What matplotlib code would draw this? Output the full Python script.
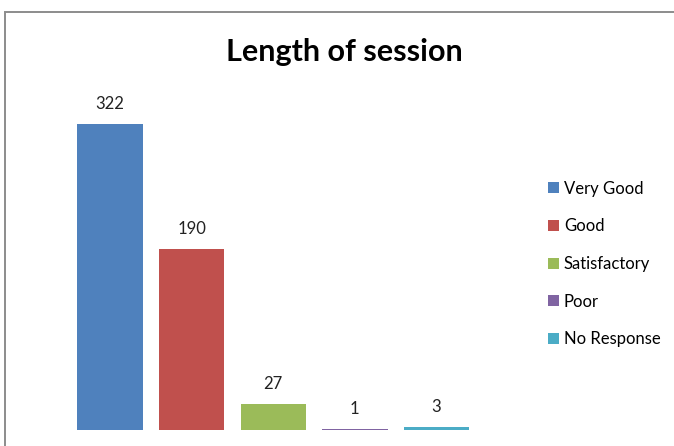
import matplotlib.pyplot as plt
from matplotlib.patches import Rectangle

categories = ["Very Good", "Good", "Satisfactory", "Poor", "No Response"]
values = [322, 190, 27, 1, 3]
colors = ["#4F81BD", "#C0504D", "#9BBB59", "#8064A2", "#4BACC6"]
title = "Length of session"

plt.rcParams['font.family'] = ['Lato', 'DejaVu Sans']

W, H = 674, 446
fig = plt.figure(figsize=(W / 100, H / 100), dpi=100)

# axes placed in pixel terms: bars baseline at y=430, first bar centre x=110
ax = fig.add_axes([61 / W, (H - 430) / H, 424.5 / W, 350 / H])
ax.set_xlim(-0.6, 4.6)
ax.set_ylim(0, 368)
ax.axis('off')

bars = []
for i, (cat, v, c) in enumerate(zip(categories, values, colors)):
    b = ax.bar(i, v, width=0.8, color=c, label=cat)
    bars.append(b)
    ax.annotate(str(v), (i, v), xytext=(0, 14.5), textcoords='offset points',
                ha='center', va='center', fontsize=12, color='#222222')

fig.text(344 / W, 1 - 52 / H, title, ha='center', va='center',
         fontsize=22, fontweight='bold')

fig.legend(handles=bars, labels=categories, loc='center left',
           bbox_to_anchor=(533 / W, 1 - 264 / H), frameon=False,
           fontsize=12, handlelength=0.65, handleheight=0.65,
           handletextpad=0.3, labelspacing=1.3)

# outer chart border (runs off the right and bottom of the image)
fig.patches.append(Rectangle((5 / W, -0.1), 1.2, 1.1 - 12 / H,
                             transform=fig.transFigure, fill=False,
                             edgecolor='#8c8c8c', linewidth=1.4))

fig.savefig('out.png', dpi=100)
